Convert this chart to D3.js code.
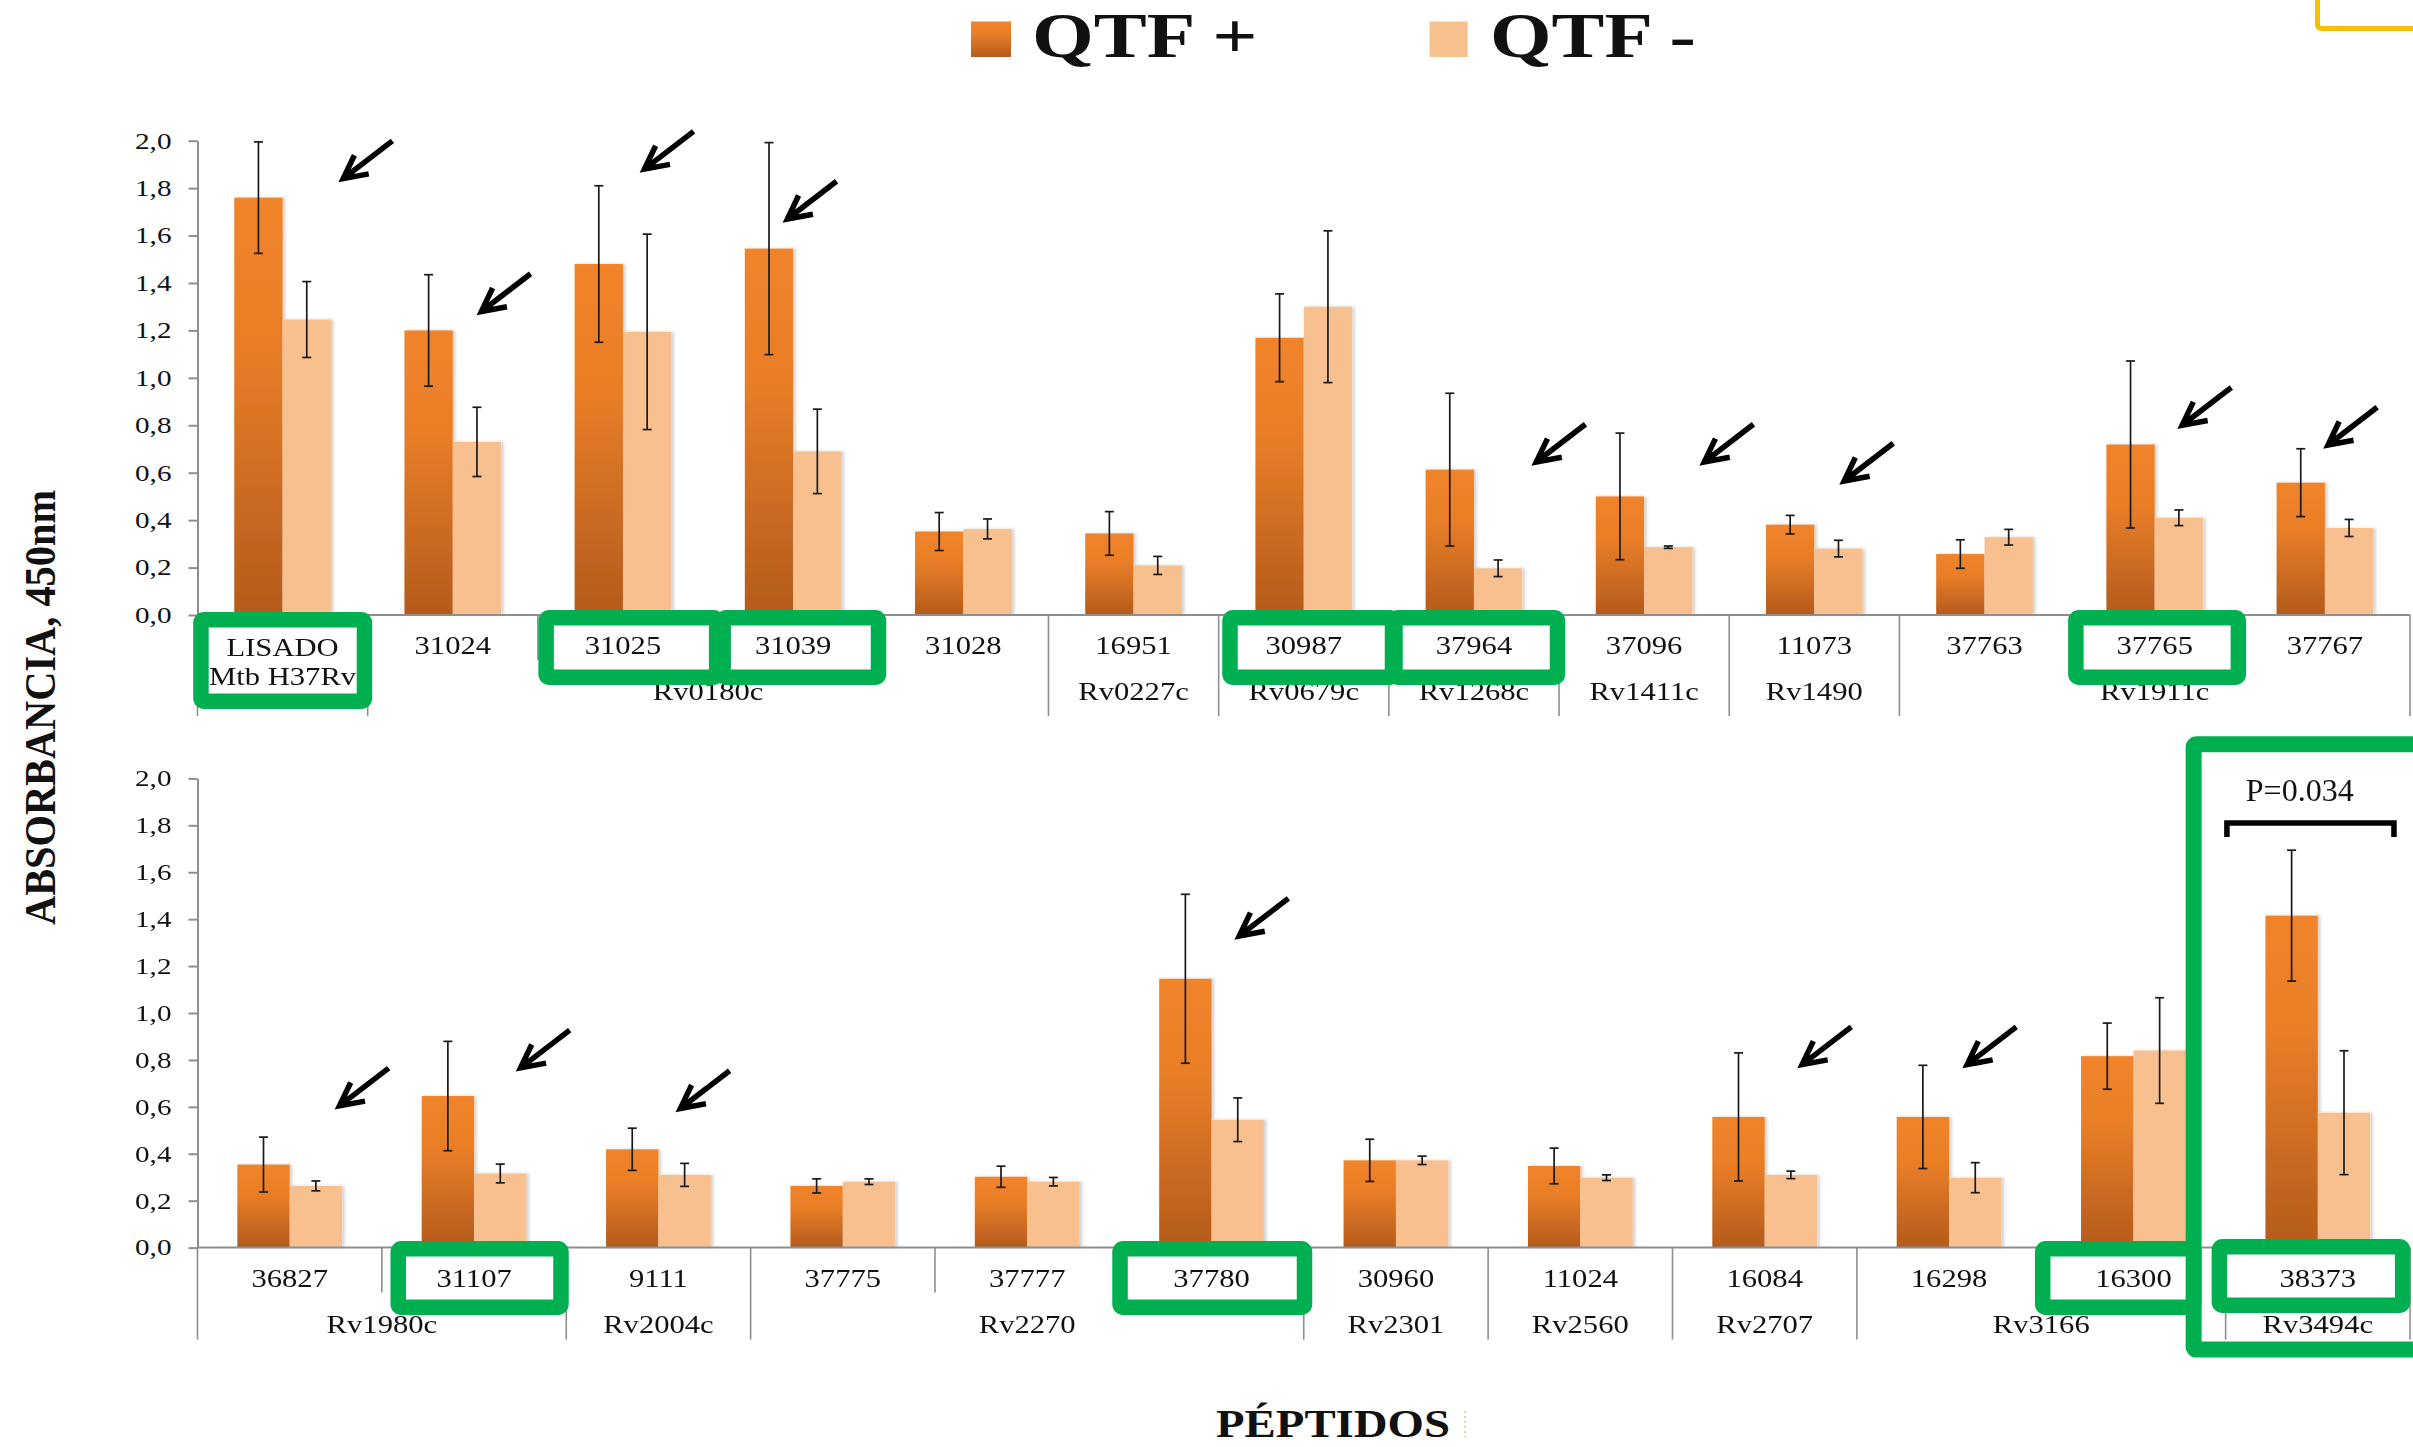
<!DOCTYPE html>
<html>
<head>
<meta charset="utf-8">
<script src="https://cdn.jsdelivr.net/npm/d3@7"></script>
<style>
  body { margin: 0; background: #fff; }
  svg { display: block; }
  text { font-family: "Liberation Serif", "Times New Roman", serif; fill: #111; }
</style>
</head>
<body>
<svg id="chart"></svg>
<script>
// ---- data ----
const series = ["QTF +", "QTF -"];
const yTicks = [0, 0.2, 0.4, 0.6, 0.8, 1.0, 1.2, 1.4, 1.6, 1.8, 2.0];

const topPeptides = ["LISADO\nMtb H37Rv", "31024", "31025", "31039", "31028", "16951", "30987", "37964", "37096", "11073", "37763", "37765", "37767"];
const topProteins = ["", "Rv0180c", "Rv0180c", "Rv0180c", "Rv0180c", "Rv0227c", "Rv0679c", "Rv1268c", "Rv1411c", "Rv1490", "Rv1911c", "Rv1911c", "Rv1911c"];
const topPos    = [1.76, 1.20, 1.48, 1.545, 0.352, 0.344, 1.169, 0.613, 0.50, 0.381, 0.257, 0.719, 0.558];
const topPosErr = [0.235, 0.235, 0.33, 0.447, 0.08, 0.092, 0.185, 0.322, 0.267, 0.039, 0.06, 0.352, 0.143];
const topNeg    = [1.246, 0.730, 1.194, 0.690, 0.363, 0.209, 1.300, 0.197, 0.286, 0.280, 0.328, 0.410, 0.367];
const topNegErr = [0.16, 0.146, 0.412, 0.178, 0.042, 0.038, 0.32, 0.035, 0.005, 0.035, 0.033, 0.033, 0.036];

const botPeptides = ["36827", "31107", "9111", "37775", "37777", "37780", "30960", "11024", "16084", "16298", "16300", "38373"];
const botProteins = ["Rv1980c", "Rv1980c", "Rv2004c", "Rv2270", "Rv2270", "Rv2270", "Rv2301", "Rv2560", "Rv2707", "Rv3166", "Rv3166", "Rv3494c"];
const botPos    = [0.354, 0.646, 0.419, 0.263, 0.302, 1.146, 0.372, 0.348, 0.557, 0.557, 0.816, 1.415];
const botPosErr = [0.117, 0.233, 0.09, 0.03, 0.045, 0.36, 0.09, 0.076, 0.273, 0.22, 0.141, 0.279];
const botNeg    = [0.263, 0.316, 0.310, 0.281, 0.281, 0.545, 0.372, 0.298, 0.310, 0.298, 0.840, 0.575];
const botNegErr = [0.021, 0.04, 0.049, 0.012, 0.018, 0.093, 0.018, 0.012, 0.016, 0.064, 0.225, 0.264];

// annotations: arrows (peptide + level in absorbance units), highlighted peptides, p-value
const topArrowPeptides = ["LISADO\nMtb H37Rv", "31024", "31025", "31039", "37964", "37096", "11073", "37765", "37767"];
const topArrowLevels = [1.84, 1.28, 1.88, 1.67, 0.645, 0.645, 0.565, 0.80, 0.717];
const botArrowPeptides = ["36827", "31107", "9111", "37780", "16084", "16298"];
const botArrowLevels = [0.604, 0.766, 0.593, 1.328, 0.78, 0.78];
const topBoxed = ["LISADO\nMtb H37Rv", "31025", "31039", "30987", "37964", "37765"];
const botBoxed = ["31107", "37780", "16300", "38373"];
const sigPeptide = "38373", sigLabel = "P=0.034", sigLevel = 1.81, sigLegLevel = 1.75, sigTextLevel = 1.905;

// ---- layout ----
const W = 2413, H = 1447;
const X0 = 197.5, X1 = 2410;
const posColor = "url(#gradPos)", negColor = "#F9C08F";
const green = "#00B050", axisGray = "#8E8E8E";
const boxStroke = 15.5;

const topLayout = {
  y0: 615, yTop: 140.7, divLong: 101, divShort: 45,
  arrowFrac: [0.856, 0.668, 0.626, 0.466, 0.866, 0.853, 0.675, 0.661, 0.518],
  boxes: [[-4.3, 4.5, -3, 94], [0.5, 16.3, -5, 70], [7.3, 8, -5, 70], [3.6, 11.4, -5, 70], [-1.6, 6.2, -5, 70], [-1.5, 6.3, -5, 70]]
};
const botLayout = {
  y0: 1247.6, yTop: 778.4, divLong: 92, divShort: 45,
  arrowFrac: [0.770, 0.752, 0.619, 0.650, 0.703, 0.598],
  boxes: [[8.6, 2.5, -6.6, 67.4], [-7.1, 8.5, -6.6, 67.4], [-6.3, -24, -6.6, 67.4], [-14, 0.4, -8.6, 65.4]]
};

const svg = d3.select("#chart").attr("width", W).attr("height", H);
const defs = svg.append("defs");
const grad = defs.append("linearGradient").attr("id", "gradPos")
  .attr("x1", 0).attr("y1", 0).attr("x2", 0).attr("y2", 1);
grad.append("stop").attr("offset", "0%").attr("stop-color", "#F1842B");
grad.append("stop").attr("offset", "35%").attr("stop-color", "#E97E27");
grad.append("stop").attr("offset", "100%").attr("stop-color", "#B45B1D");
defs.append("filter").attr("id", "shadow").attr("x", "-10%").attr("y", "-5%").attr("width", "130%").attr("height", "110%")
  .append("feDropShadow").attr("dx", 2.5).attr("dy", 0).attr("stdDeviation", 1.5)
  .attr("flood-color", "#000").attr("flood-opacity", 0.18);

// stretch text horizontally (the original chart was resized non-uniformly)
function stretch(sel, k) {
  sel.each(function() {
    const w = this.getComputedTextLength();
    d3.select(this).attr("textLength", w * k).attr("lengthAdjust", "spacingAndGlyphs");
  });
}

function arrowPath(tx, ty) {
  const ang = Math.atan2(-37.6, 49), L = 62, h = 26, spread = 0.47;
  const tail = [tx + L * Math.cos(ang), ty + L * Math.sin(ang)];
  const a1 = [tx + h * Math.cos(ang - spread), ty + h * Math.sin(ang - spread)];
  const a2 = [tx + h * Math.cos(ang + spread), ty + h * Math.sin(ang + spread)];
  return `M${tail[0]},${tail[1]}L${tx},${ty}M${a1[0]},${a1[1]}L${tx},${ty}L${a2[0]},${a2[1]}`;
}

function drawPanel(peptides, proteins, pos, posErr, neg, negErr, arrowPeps, arrowLevels, boxed, lay) {
  const x = d3.scaleBand().domain(peptides).range([X0, X1]);
  const xs = d3.scaleBand().domain(series).range([0, x.bandwidth()]).paddingOuter(0.76);
  const y = d3.scaleLinear().domain([0, 2]).range([lay.y0, lay.yTop]);
  const bw = x.bandwidth();

  const rows = peptides.map((pep, i) => ({
    pep: pep,
    vals: [{ s: series[0], v: pos[i], e: posErr[i] }, { s: series[1], v: neg[i], e: negErr[i] }]
  }));

  const g = svg.append("g");

  // bars
  const cat = g.append("g").attr("filter", "url(#shadow)").selectAll("g").data(rows).join("g")
    .attr("transform", d => `translate(${x(d.pep)},0)`);
  cat.selectAll("rect").data(d => d.vals).join("rect")
    .attr("x", d => xs(d.s))
    .attr("width", xs.bandwidth())
    .attr("y", d => y(d.v))
    .attr("height", d => y(0) - y(d.v))
    .attr("fill", d => d.s === series[0] ? posColor : negColor);

  // error bars
  const eb = g.append("g").selectAll("g").data(rows).join("g")
    .attr("transform", d => `translate(${x(d.pep)},0)`)
    .selectAll("g").data(d => d.vals).join("g")
    .attr("transform", d => `translate(${xs(d.s) + xs.bandwidth() / 2},0)`)
    .attr("stroke", "#1a1a1a").attr("stroke-width", 1.7);
  eb.append("line").attr("y1", d => y(d.v + d.e)).attr("y2", d => y(d.v - d.e));
  eb.append("line").attr("x1", -4.5).attr("x2", 4.5).attr("y1", d => y(d.v + d.e)).attr("y2", d => y(d.v + d.e));
  eb.append("line").attr("x1", -4.5).attr("x2", 4.5).attr("y1", d => y(d.v - d.e)).attr("y2", d => y(d.v - d.e));

  // y axis
  const yAxis = g.append("g").attr("transform", `translate(${X0},0)`)
    .call(d3.axisLeft(y).tickValues(yTicks).tickSize(9).tickSizeOuter(0).tickPadding(17)
      .tickFormat(d => d3.format(".1f")(d).replace(".", ",")));
  yAxis.select(".domain").attr("stroke", axisGray).attr("stroke-width", 2);
  yAxis.selectAll(".tick line").attr("stroke", axisGray).attr("stroke-width", 2);
  yAxis.selectAll(".tick text").attr("font-family", "Liberation Serif").attr("font-size", 23).attr("fill", "#111");
  stretch(yAxis.selectAll(".tick text"), 1.27);

  // category baseline and dividers
  g.append("line").attr("x1", X0).attr("x2", X1).attr("y1", y(0)).attr("y2", y(0))
    .attr("stroke", axisGray).attr("stroke-width", 2);
  const bounds = d3.range(peptides.length + 1).map(b => ({
    x: b < peptides.length ? x(peptides[b]) : X1,
    long: b === 0 || b === peptides.length || proteins[b - 1] !== proteins[b]
  }));
  g.append("g").selectAll("line").data(bounds).join("line")
    .attr("x1", d => d.x).attr("x2", d => d.x)
    .attr("y1", y(0)).attr("y2", d => y(0) + (d.long ? lay.divLong : lay.divShort))
    .attr("stroke", axisGray).attr("stroke-width", 1.6);

  // protein (group) labels
  const groups = [];
  proteins.forEach((p, i) => {
    if (i > 0 && proteins[i - 1] === p) groups[groups.length - 1].end = i;
    else groups.push({ name: p, start: i, end: i });
  });
  const gl = g.append("g").selectAll("text").data(groups.filter(d => d.name)).join("text")
    .attr("x", d => (x(peptides[d.start]) + x(peptides[d.end]) + bw) / 2)
    .attr("y", y(0) + 85)
    .attr("text-anchor", "middle").attr("font-size", 25.5)
    .text(d => d.name);
  stretch(gl, 1.2);

  // highlight boxes: white fill first
  const boxData = boxed.map((pep, i) => {
    const b = lay.boxes[i];
    const x0 = x(pep) + b[0], x1 = x(pep) + bw + b[1];
    const y0 = y(0) + b[2], y1 = y(0) + b[3];
    return { x: x0 + boxStroke / 2, y: y0 + boxStroke / 2, w: x1 - x0 - boxStroke, h: y1 - y0 - boxStroke };
  });
  g.append("g").selectAll("rect").data(boxData).join("rect")
    .attr("x", d => d.x).attr("y", d => d.y).attr("width", d => d.w).attr("height", d => d.h)
    .attr("fill", "#fff");

  // peptide labels
  const pl = g.append("g").selectAll("text")
    .data(peptides.flatMap(p => {
      const lines = p.split("\n");
      return lines.map((t, k) => ({ pep: p, t: t, k: k, n: lines.length }));
    }))
    .join("text")
    .attr("x", d => x(d.pep) + bw / 2)
    .attr("y", d => d.n > 1 ? y(0) + 41 + d.k * 29 : y(0) + 39)
    .attr("text-anchor", "middle").attr("font-size", 25.5)
    .text(d => d.t);
  stretch(pl, 1.2);

  // box strokes on top
  g.append("g").selectAll("rect").data(boxData).join("rect")
    .attr("x", d => d.x).attr("y", d => d.y).attr("width", d => d.w).attr("height", d => d.h)
    .attr("rx", 3).attr("fill", "none").attr("stroke", green).attr("stroke-width", boxStroke);

  // arrows
  g.append("g").selectAll("path").data(arrowPeps).join("path")
    .attr("d", (p, i) => arrowPath(x(p) + lay.arrowFrac[i] * bw, y(arrowLevels[i])))
    .attr("fill", "none").attr("stroke", "#000").attr("stroke-width", 5.5)
    .attr("stroke-linejoin", "miter").attr("stroke-linecap", "butt");

  return { x: x, y: y, bw: bw };
}

drawPanel(topPeptides, topProteins, topPos, topPosErr, topNeg, topNegErr,
  topArrowPeptides, topArrowLevels, topBoxed, topLayout);
const bot = drawPanel(botPeptides, botProteins, botPos, botPosErr, botNeg, botNegErr,
  botArrowPeptides, botArrowLevels, botBoxed, botLayout);

// significance bracket
const sx0 = bot.x(sigPeptide) + 0.007 * bot.bw, sx1 = bot.x(sigPeptide) + 0.913 * bot.bw;
svg.append("path")
  .attr("d", `M${sx0},${bot.y(sigLegLevel)}V${bot.y(sigLevel)}H${sx1}V${bot.y(sigLegLevel)}`)
  .attr("fill", "none").attr("stroke", "#000").attr("stroke-width", 5.5);
svg.append("text")
  .attr("x", bot.x(sigPeptide) + 0.402 * bot.bw).attr("y", bot.y(sigTextLevel))
  .attr("text-anchor", "middle").attr("font-size", 32)
  .text(sigLabel);

// tall highlight around the last peptide
const tallX = bot.x(sigPeptide) - 40;
svg.append("rect")
  .attr("x", tallX + 8).attr("y", bot.y(2.18) + 8)
  .attr("width", W + 30 - tallX).attr("height", (bot.y(0) + 110) - bot.y(2.18) - 16)
  .attr("rx", 3).attr("fill", "none").attr("stroke", green).attr("stroke-width", 16);

// legend
const legend = svg.append("g");
const legItems = [
  { s: series[0], sq: 971, sw: 40, tx: 1032, len: 225.5, fill: posColor },
  { s: series[1], sq: 1429.6, sw: 38, tx: 1490, len: 206, fill: negColor }
];
legend.selectAll("rect").data(legItems).join("rect")
  .attr("x", d => d.sq).attr("y", 21.5).attr("width", d => d.sw).attr("height", 35.5)
  .attr("fill", d => d.fill);
legend.selectAll("text").data(legItems).join("text")
  .attr("x", d => d.tx).attr("y", 57)
  .attr("font-size", 63).attr("font-weight", "bold")
  .attr("textLength", d => d.len).attr("lengthAdjust", "spacingAndGlyphs")
  .text(d => d.s);

// axis titles
svg.append("text")
  .attr("transform", "translate(55,707.5) rotate(-90)")
  .attr("text-anchor", "middle").attr("font-size", 44).attr("font-weight", "bold")
  .attr("textLength", 435).attr("lengthAdjust", "spacingAndGlyphs")
  .text("ABSORBANCIA, 450nm");
svg.append("text")
  .attr("transform", "translate(1333,1437) scale(1.17,1)")
  .attr("text-anchor", "middle").attr("font-size", 40).attr("font-weight", "bold")
  .text("PÉPTIDOS");
svg.append("line").attr("x1", 1465).attr("x2", 1465).attr("y1", 1411).attr("y2", 1437)
  .attr("stroke", "#d8c2a4").attr("stroke-width", 1.5).attr("stroke-dasharray", "2,3");

// yellow corner of a neighbouring frame
svg.append("path")
  .attr("d", `M2317.5,0V24Q2317.5,28.5 2322,28.5H${W}`)
  .attr("fill", "none").attr("stroke", "#F5C000").attr("stroke-width", 5);
</script>
</body>
</html>
